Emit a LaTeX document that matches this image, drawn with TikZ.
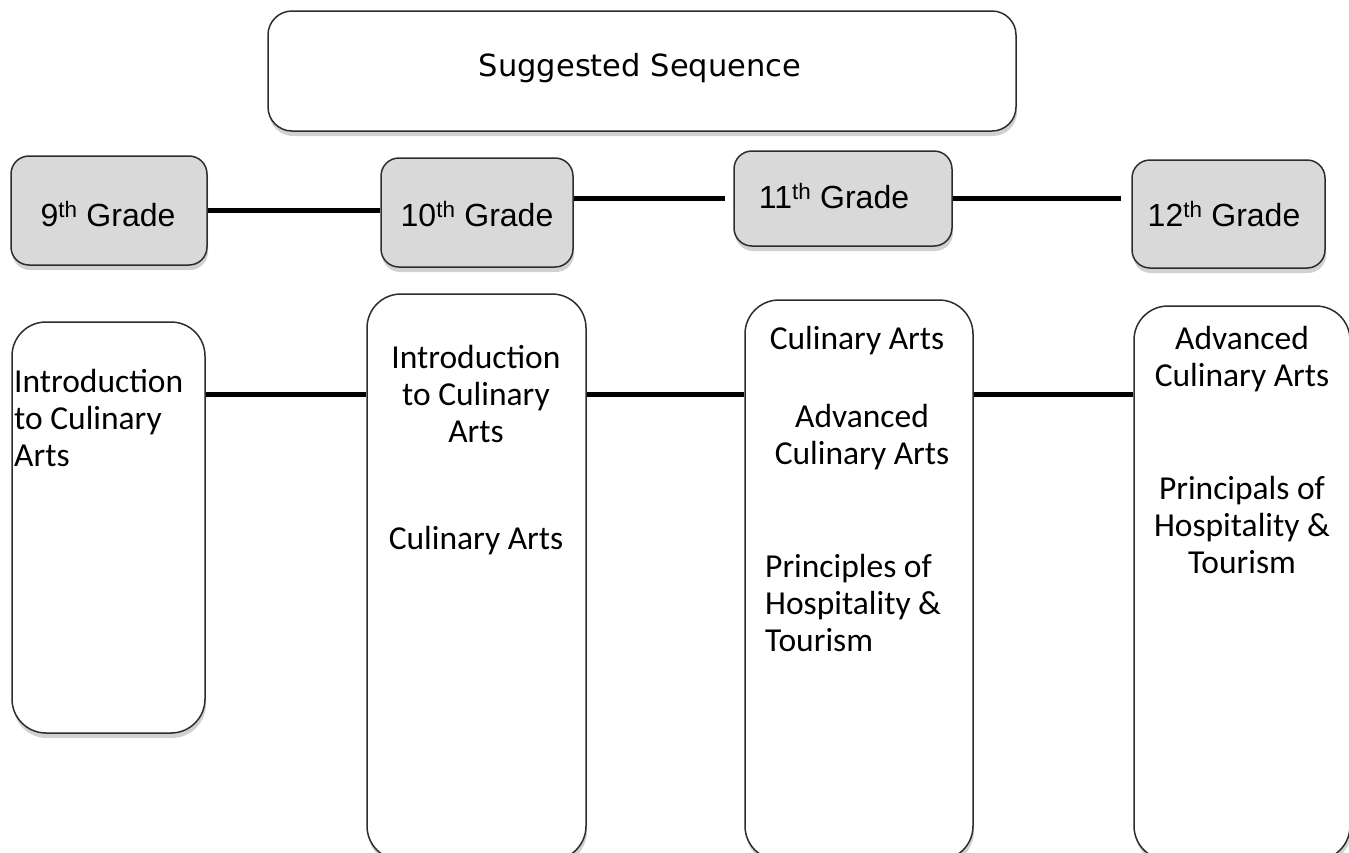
\documentclass[tikz,border=0pt]{standalone}
\usepackage{fontspec}
\setmainfont{Carlito}
\newfontfamily\gradefont{Liberation Sans}
\newfontfamily\titlefont{DejaVu Sans}
\usetikzlibrary{shadows}
\definecolor{gradegray}{RGB}{217,217,217}
\definecolor{edgegray}{RGB}{45,45,45}
\tikzset{
  shade/.style={drop shadow={shadow xshift=1pt, shadow yshift=-5pt, fill=black, opacity=0.18}},
  topbox/.style={draw=edgegray, line width=1.5pt, fill=white, rounded corners=24pt, shade,
     minimum width=748pt, minimum height=120pt, inner sep=0pt},
  gradebox/.style={draw=edgegray, line width=1.5pt, fill=gradegray, rounded corners=18pt, shade, inner sep=0pt},
  coursebox/.style={draw=edgegray, line width=1.5pt, fill=white, rounded corners=34pt, shade, inner sep=0pt},
  gradetext/.style={font=\gradefont\fontsize{32}{38}\selectfont, inner sep=0pt},
  titletext/.style={font=\titlefont\fontsize{30.5}{36}\selectfont, inner sep=0pt},
  coursetext/.style={font=\fontsize{33.5}{37}\selectfont, inner sep=0pt},
  link/.style={line width=5pt, black, drop shadow={shadow xshift=0pt, shadow yshift=-3pt, opacity=0.15}}
}
\begin{document}
\begin{tikzpicture}[x=1pt,y=-1pt]
\useasboundingbox (0,0) rectangle (1349,852);
\clip (0,0) rectangle (1349,852);

% title
\node[topbox] (top) at (642,71) {};
\node[titletext] (toptext) at (640,68) {Suggested Sequence};

% grade boxes
\node[gradebox, minimum width=196pt, minimum height=109pt] (g9) at (109,210.5) {};
\node[gradebox, minimum width=192pt, minimum height=109pt] (g10) at (477,212.5) {};
\node[gradebox, minimum width=218pt, minimum height=95pt] (g11) at (843,198.5) {};
\node[gradebox, minimum width=193pt, minimum height=108pt] (g12) at (1228.5,214) {};

\node[gradetext] (g9t) at (108,214) {9\textsuperscript{th} Grade};
\node[gradetext] (g10t) at (477,214) {10\textsuperscript{th} Grade};
\node[gradetext] (g11t) at (834,196) {11\textsuperscript{th} Grade};
\node[gradetext] (g12t) at (1224,214) {12\textsuperscript{th} Grade};

% grade connectors
\draw[link] (g9.east) -- (g9.east -| g10.west);
\draw[link, shorten >=8pt] (g10.east |- g11.west) -- (g11.west);
\draw[link, shorten >=10pt] (g11.east) -- (g11.east -| g12.west);

% course boxes
\node[coursebox, minimum width=193pt, minimum height=411pt] (b1) at (108.5,527.5) {};
\node[coursebox, minimum width=219pt, minimum height=566pt] (b2) at (476.5,577) {};
\node[coursebox, minimum width=228pt, minimum height=560pt] (b3) at (859,580) {};
\node[coursebox, minimum width=216pt, minimum height=554pt] (b4) at (1242,583) {};

\coordinate (row) at (0,394);
\draw[link] (b1.east |- row) -- (b2.west |- row);
\draw[link] (b2.east |- row) -- (b3.west |- row);
\draw[link] (b3.east |- row) -- (b4.west |- row);

% course texts
\node[coursetext, align=left, anchor=west] (t1) at (14,418) {Introduction\\to Culinary\\Arts};
\node[coursetext, align=center] (t2a) at (476,394) {Introduction\\to Culinary\\Arts};
\node[coursetext, align=center] (t2b) at (476,541) {Culinary Arts};
\node[coursetext, align=center] (t3a) at (857,341) {Culinary Arts};
\node[coursetext, align=center] (t3b) at (862,437.5) {Advanced\\Culinary Arts};
\node[coursetext, align=left, anchor=west] (t3c) at (765,603) {Principles of\\Hospitality \&\\Tourism};
\node[coursetext, align=center] (t4a) at (1242,359.5) {Advanced\\Culinary Arts};
\node[coursetext, align=center] (t4b) at (1242,525) {Principals of\\Hospitality \&\\Tourism};
\end{tikzpicture}
\end{document}
